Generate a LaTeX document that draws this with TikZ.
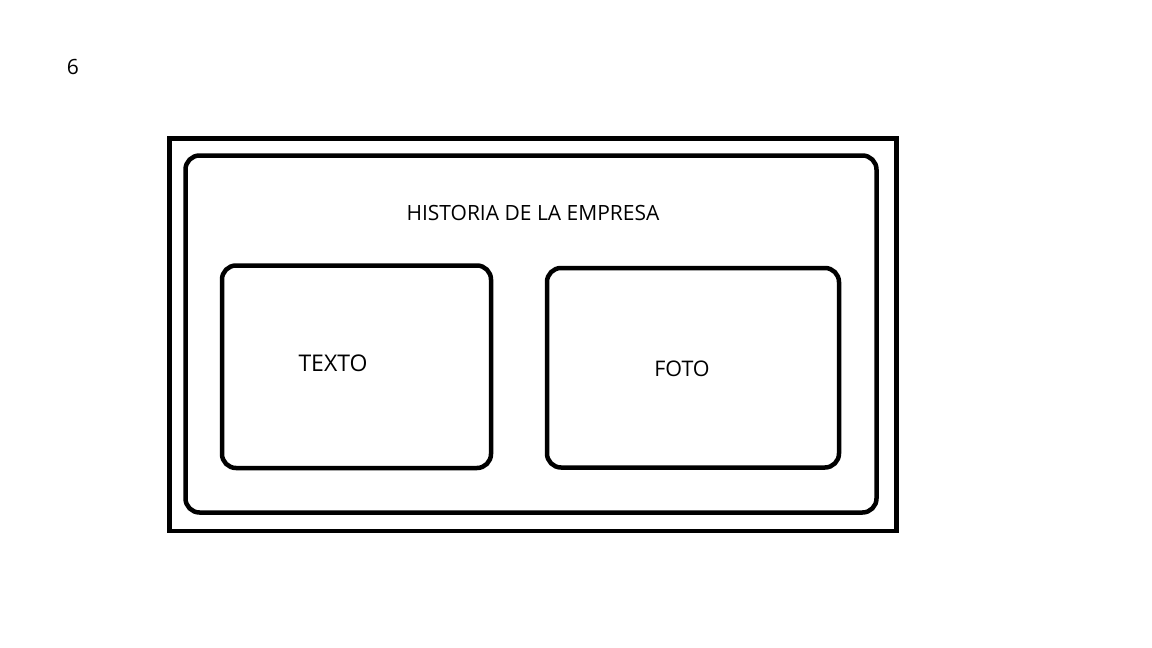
\documentclass[tikz,border=0pt]{standalone}
\usepackage{fontspec}
\setmainfont{Open Sans}
\usetikzlibrary{positioning}

\begin{document}
\begin{tikzpicture}[x=1pt, y=-1pt,
    frame/.style={line width=4.5pt, black},
    box/.style={line width=4.5pt, black, rounded corners=14pt},
    label/.style={font=\fontsize{21}{25}\selectfont, inner sep=0pt}]
    \useasboundingbox (0,0) rectangle (1152,648);

    \node[label] (num) at (73, 67) {6};

    \draw[frame] (169.5, 138.5) rectangle (896.5, 531);
    \draw[box] (185.5, 155.5) rectangle (876.5, 512.5);

    \node[label] (title) at (533, 213) {HISTORIA DE LA EMPRESA};

    \draw[box] (222, 265.5) rectangle (491, 468);
    \node[label, font=\fontsize{23}{27}\selectfont] (texto) at (333, 363) {TEXTO};

    \draw[box] (547, 268) rectangle (839, 467.5);
    \node[label, font=\fontsize{21.5}{25}\selectfont] (foto) at (682, 369) {FOTO};
\end{tikzpicture}
\end{document}
